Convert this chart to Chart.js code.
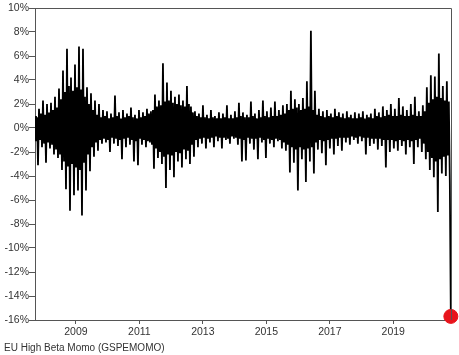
<!DOCTYPE html>
<html>
<head>
<meta charset="utf-8">
<script src="https://cdn.jsdelivr.net/npm/chart.js@4/dist/chart.umd.min.js"></script>
<style>
html,body{margin:0;padding:0;background:#fff;}
#wrap{width:459px;height:355px;}
</style>
</head>
<body>
<div id="wrap"><canvas id="c" width="459" height="355"></canvas></div>
<script>
// Series label
const seriesName = "EU High Beta Momo (GSPEMOMO)";
// Sampling grid (decimal years): first sample and spacing
const startYear = 2007.71;
const stepYears = 0.0315;
// Returns (%), in time order
const returns = [
 1.0,-1.1,0.9,-3.1, 1.6,-1.0,1.2,-1.6, 2.3,-1.3,1.1,-2.9, 2.0,-1.2,1.3,-1.7, 2.1,-1.4,1.5,-2.2,
 2.6,-1.8,1.7,-2.5, 3.3,-2.2,2.4,-3.5, 4.8,-2.8,3.0,-5.1, 6.6,-3.2,3.5,-6.9, 4.2,-3.0,3.1,-5.6,
 5.3,-3.3,3.4,-5.2, 6.8,-3.5,3.2,-7.3, 6.6,-2.9,2.6,-5.2, 3.4,-2.2,2.0,-3.6, 2.9,-1.6,1.5,-2.4,
 2.3,-1.2,1.1,-1.9, 2.0,-1.0,0.9,-1.3, 1.5,-0.9,1.0,-1.2, 1.4,-1.0,0.8,-2.0, 1.2,-0.8,0.9,-1.3,
 2.7,-0.9,1.0,-1.5, 1.3,-1.0,0.8,-2.6, 1.5,-0.9,0.9,-1.6, 1.2,-0.8,1.0,-1.4, 1.7,-1.0,0.9,-2.8,
 1.1,-1.1,0.8,-3.1, 1.5,-0.9,0.9,-1.4, 1.3,-1.0,1.0,-1.6, 1.6,-1.1,1.2,-1.2, 1.4,-1.4,1.5,-3.4,
 2.8,-1.7,1.8,-2.5, 2.3,-2.0,1.9,-3.0, 5.4,-2.4,2.2,-5.0, 3.8,-2.2,2.3,-3.5, 3.1,-2.3,2.1,-4.1,
 2.6,-2.0,2.0,-2.8, 2.8,-2.1,1.9,-3.3, 2.3,-1.8,1.8,-2.6, 3.5,-1.9,2.0,-3.0, 1.8,-1.4,1.3,-2.4,
 1.4,-1.0,1.0,-1.6, 1.2,-0.9,0.9,-1.3, 1.9,-0.8,0.9,-1.7, 1.1,-0.9,0.8,-1.2, 1.5,-0.8,0.9,-1.6,
 1.0,-0.7,0.8,-1.1, 1.3,-0.8,0.8,-1.7, 1.2,-0.8,0.9,-1.0, 1.9,-0.9,0.8,-1.3, 1.1,-0.7,0.8,-0.9,
 1.4,-0.8,0.9,-1.4, 2.1,-0.9,1.0,-2.8, 1.3,-1.0,0.9,-2.7, 1.1,-0.8,0.9,-1.3, 2.2,-0.9,1.0,-1.8,
 1.2,-0.9,0.8,-2.6, 1.5,-0.8,0.9,-1.2, 2.3,-1.0,1.0,-2.5, 1.4,-0.9,0.9,-1.3, 1.7,-1.0,1.0,-1.6,
 2.2,-0.9,1.0,-1.1, 1.5,-1.0,1.1,-1.7, 1.9,-1.2,1.2,-1.9, 2.0,-1.4,1.5,-3.7, 3.1,-1.6,1.6,-2.9,
 2.4,-1.8,1.7,-5.2, 2.0,-1.6,1.5,-2.6, 2.5,-1.8,1.6,-4.5, 3.9,-1.7,1.8,-2.8, 8.1,-1.6,1.5,-3.8,
 3.1,-1.2,1.1,-1.8, 1.6,-1.0,1.0,-2.1, 1.4,-1.1,0.9,-3.1, 1.5,-1.0,1.0,-1.7, 1.2,-0.9,0.9,-2.2,
 1.6,-0.9,1.0,-1.5, 1.3,-0.8,0.9,-1.9, 1.2,-0.8,0.8,-1.2, 1.4,-0.8,0.9,-1.4, 1.1,-0.7,0.8,-1.0,
 1.3,-0.8,0.8,-1.3, 1.2,-0.7,0.9,-1.1, 1.4,-0.8,0.8,-2.2, 1.1,-0.8,0.9,-1.5, 1.2,-0.9,0.8,-1.3,
 1.6,-0.9,1.0,-1.8, 1.3,-0.9,0.9,-1.5, 1.8,-1.0,1.0,-3.3, 1.5,-1.0,1.1,-2.0, 2.0,-1.0,1.0,-1.7,
 1.6,-1.1,1.0,-1.9, 2.5,-1.0,1.1,-1.5, 1.8,-1.1,1.0,-2.2, 1.5,-1.0,1.0,-1.6, 2.0,-1.1,1.1,-3.0,
 2.6,-1.0,1.0,-1.6, 1.4,-0.9,1.0,-2.0, 1.9,-1.3,1.4,-2.6, 3.4,-2.0,2.1,-3.5, 4.4,-2.5,2.4,-4.1,
 4.3,-2.8,2.6,-7.0, 6.2,-2.6,2.5,-3.8, 3.5,-2.4,2.3,-4.0, 3.9,-2.3,2.2,-4.6,
 -15.7
];
// X tick years and Y tick values
const xTickYears = [2009, 2011, 2013, 2015, 2017, 2019];
const yMin = -16, yMax = 10, yStep = 2;

const dates = returns.map((_, i) => startYear + i * stepYears);
const points = returns.map((v, i) => ({x: dates[i], y: v}));
const lastPoint = points[points.length - 1];

const frame = {
  id: 'frame',
  afterDatasetsDraw(chart) {
    const a = chart.chartArea, ctx = chart.ctx;
    ctx.save();
    ctx.strokeStyle = '#555';
    ctx.lineWidth = 1;
    ctx.beginPath();
    ctx.moveTo(Math.round(a.left), Math.round(a.top) + 0.5);
    ctx.lineTo(Math.round(a.right) + 0.5, Math.round(a.top) + 0.5);
    ctx.lineTo(Math.round(a.right) + 0.5, Math.round(a.bottom));
    ctx.stroke();
    ctx.restore();
  }
};

const font = {family: 'Liberation Sans, Arial', size: 10.5};

new Chart(document.getElementById('c'), {
  type: 'line',
  data: {
    datasets: [
      {label: seriesName, data: points, borderColor: '#000', borderWidth: 1.8, pointRadius: 0, tension: 0, fill: false, order: 2},
      {label: 'last', data: [lastPoint], borderColor: '#e8141c', backgroundColor: '#e8141c', pointRadius: 7, showLine: false, clip: false, order: 1}
    ]
  },
  options: {
    responsive: false,
    animation: false,
    layout: {padding: {top: 7, right: 7, left: 4, bottom: 0}},
    plugins: {
      legend: {display: false},
      tooltip: {enabled: false},
      title: {display: true, text: seriesName, position: 'bottom', align: 'start',
              color: '#333', font: {family: 'Liberation Sans, Arial', size: 10, weight: 'normal'}, padding: {top: 2, bottom: 1}}
    },
    scales: {
      x: {
        type: 'linear', min: startYear, max: dates[dates.length - 1] + 0.005,
        afterBuildTicks: s => { s.ticks = xTickYears.map(v => ({value: v})); },
        ticks: {callback: v => String(v), color: '#333', font: font, maxRotation: 0, padding: 2},
        grid: {drawOnChartArea: false, drawTicks: true, tickLength: 4, color: '#555'},
        border: {color: '#555'},
        afterFit: s => { s.height = 20; }
      },
      y: {
        min: yMin, max: yMax,
        ticks: {stepSize: yStep, callback: v => v + '%', color: '#333', font: font, padding: 0},
        grid: {drawOnChartArea: false, drawTicks: true, tickLength: 6, color: '#555'},
        border: {color: '#555'},
        afterFit: s => { s.width = 31; }
      }
    }
  },
  plugins: [frame]
});
</script>
</body>
</html>
